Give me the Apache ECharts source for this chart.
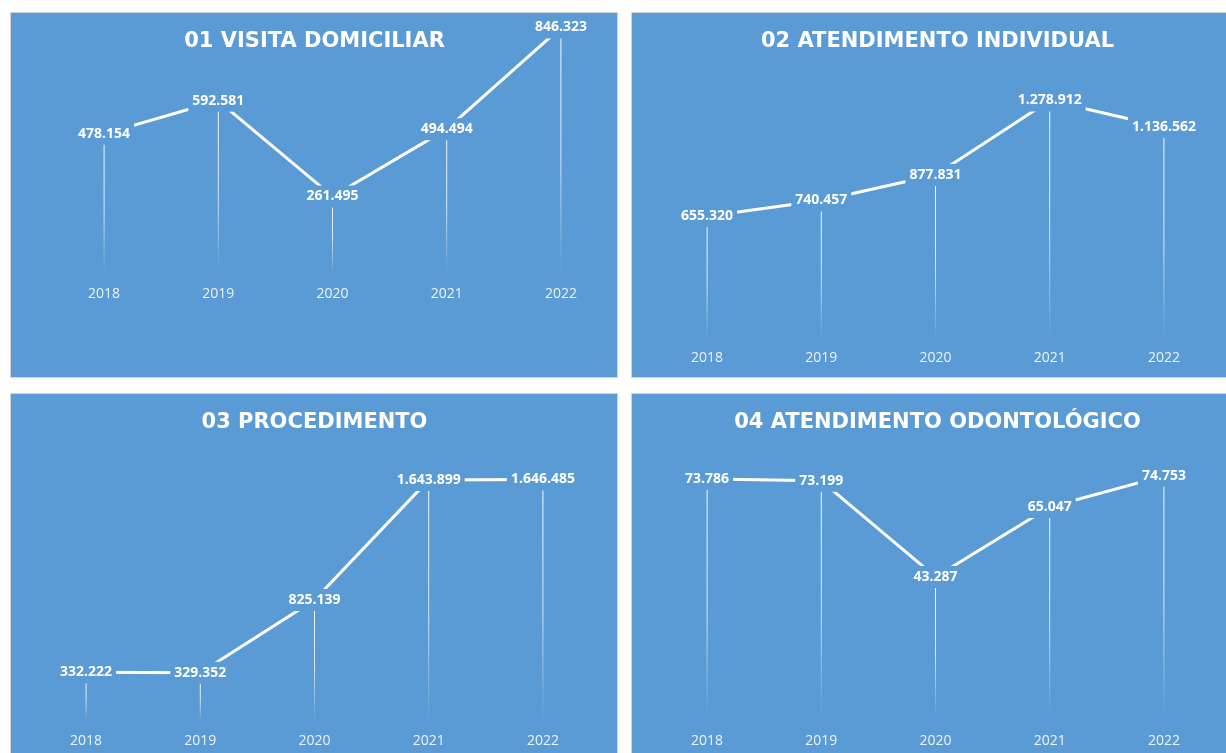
<!DOCTYPE html>
<html>
<head>
<meta charset="utf-8">
<script src="https://cdn.jsdelivr.net/npm/echarts@6/dist/echarts.min.js"></script>
<style>
  html, body { margin: 0; padding: 0; background: #ffffff; }
  #chart { width: 1226px; height: 753px; }
</style>
</head>
<body>
<div id="chart"></div>
<script>
// Year categories shared by all four panels
const years = ['2018', '2019', '2020', '2021', '2022'];

// Yearly totals per indicator
const visitaDomiciliar = [478154, 592581, 261495, 494494, 846323];
const atendimentoIndividual = [655320, 740457, 877831, 1278912, 1136562];
const procedimento = [332222, 329352, 825139, 1643899, 1646485];
const atendimentoOdontologico = [73786, 73199, 43287, 65047, 74753];

// Panel titles
const titles = [
  '01 VISITA DOMICILIAR',
  '02 ATENDIMENTO INDIVIDUAL',
  '03 PROCEDIMENTO',
  '04 ATENDIMENTO ODONTOLÓGICO'
];

const seriesData = [visitaDomiciliar, atendimentoIndividual, procedimento, atendimentoOdontologico];

const BLUE = '#5b9bd5';
const FONT = '"Open Sans", Lato, sans-serif';
const TITLE_FONT = '"DejaVu Sans", "Open Sans", sans-serif';

// Panel frames and plotting areas
const panels = [
  { x: 10,  y: 12,  w: 607, h: 365 },
  { x: 631, y: 12,  w: 607, h: 365 },
  { x: 10,  y: 393, w: 607, h: 380 },
  { x: 631, y: 393, w: 607, h: 380 }
];
const grids = [
  { left: 47,  top: 12,  width: 571, height: 260 },
  { left: 650, top: 78,  width: 571, height: 260 },
  { left: 29,  top: 457, width: 571, height: 264 },
  { left: 650, top: 459, width: 571, height: 257 }
];
const yMax = [900000, 1400000, 1800000, 80000];
const labelMargin = [15, 13, 13, 18];

// 1234567 -> "1.234.567"
function fmt(v) {
  return String(Math.round(v)).replace(/\B(?=(\d{3})+(?!\d))/g, '.');
}

const option = {
  backgroundColor: '#ffffff',
  animation: false,
  graphic: panels.map(p => ({
    type: 'rect',
    z: -10,
    shape: { x: p.x + 0.5, y: p.y + 0.5, width: p.w, height: p.h },
    style: { fill: BLUE, stroke: '#d4d4d4', lineWidth: 1 }
  })),
  title: titles.map((t, i) => ({
    text: t,
    left: panels[i].x + panels[i].w / 2 + (i % 2 ? 3 : 1),
    top: panels[i].y + 19,
    textAlign: 'center',
    padding: 0,
    textStyle: {
      color: '#ffffff',
      fontFamily: TITLE_FONT,
      fontWeight: 'bold',
      fontSize: 21
    }
  })),
  grid: grids.map(g => Object.assign({ containLabel: false }, g)),
  xAxis: grids.map((g, i) => ({
    type: 'category',
    gridIndex: i,
    data: years,
    boundaryGap: true,
    axisLine: { show: false },
    axisTick: { show: false },
    axisLabel: {
      color: 'rgba(255,255,255,0.88)',
      fontFamily: FONT,
      fontSize: 14,
      margin: labelMargin[i]
    }
  })),
  yAxis: grids.map((g, i) => ({
    type: 'value',
    gridIndex: i,
    min: 0,
    max: yMax[i],
    show: false,
    splitLine: { show: false }
  })),
  series: []
};

seriesData.forEach((data, i) => {
  // fading drop lines from each point down to the baseline
  option.series.push({
    type: 'bar',
    xAxisIndex: i,
    yAxisIndex: i,
    data: data,
    barWidth: 1,
    z: 1,
    silent: true,
    itemStyle: {
      color: new echarts.graphic.LinearGradient(0, 0, 0, 1, [
        { offset: 0, color: 'rgba(255,255,255,0.95)' },
        { offset: 0.55, color: 'rgba(255,255,255,0.75)' },
        { offset: 1, color: 'rgba(255,255,255,0)' }
      ])
    }
  });
  // trend line with value labels sitting on the points
  option.series.push({
    type: 'line',
    xAxisIndex: i,
    yAxisIndex: i,
    data: data,
    z: 3,
    symbol: 'circle',
    symbolSize: 2,
    itemStyle: { color: '#ffffff' },
    lineStyle: { color: '#ffffff', width: 3 },
    label: {
      show: true,
      position: 'inside',
      formatter: p => fmt(p.value),
      color: '#ffffff',
      fontFamily: FONT,
      fontWeight: 'bold',
      fontSize: 14,
      backgroundColor: BLUE,
      padding: [4, 4, 4, 4]
    }
  });
});

const chart = echarts.init(document.getElementById('chart'), null, { renderer: 'canvas' });
chart.setOption(option);
</script>
</body>
</html>
